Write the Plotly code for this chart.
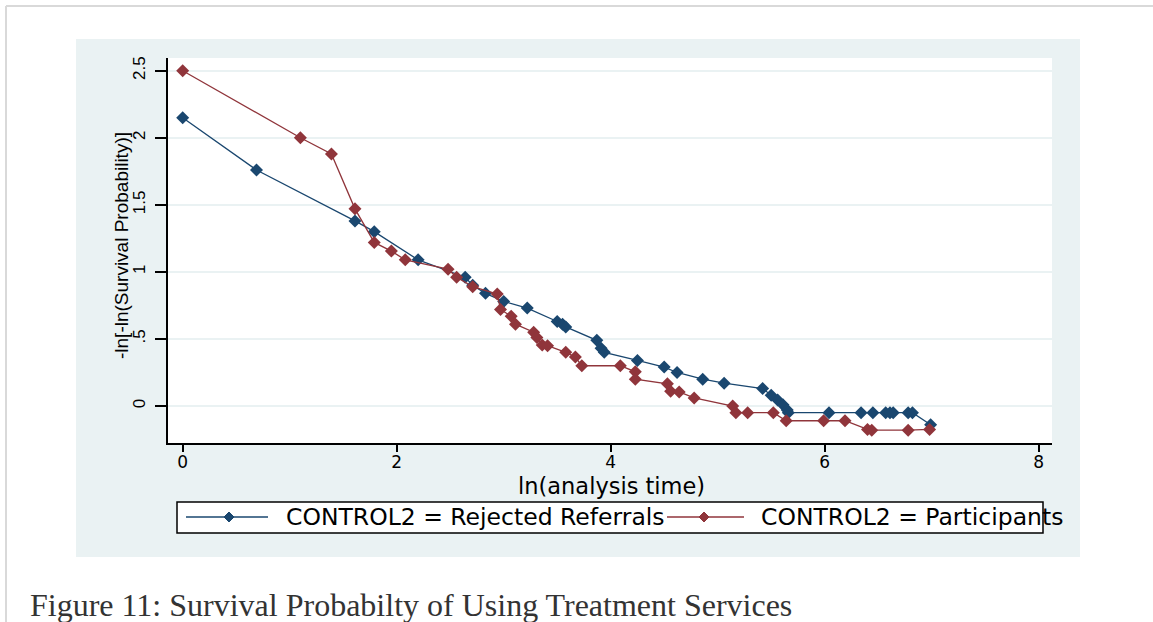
import plotly.graph_objects as go

# ---- data ----
rejected_x = [0, 0.69, 1.61, 1.79, 2.20, 2.64, 2.71, 2.83, 3.00, 3.22, 3.50, 3.55, 3.58,
              3.87, 3.91, 3.94, 4.25, 4.50, 4.62, 4.86, 5.06, 5.42, 5.50, 5.56, 5.61,
              5.65, 5.66, 6.04, 6.34, 6.45, 6.57, 6.61, 6.64, 6.78, 6.82, 6.99]
rejected_y = [2.15, 1.76, 1.38, 1.30, 1.09, 0.96, 0.90, 0.84, 0.78, 0.73, 0.63, 0.61, 0.59,
              0.49, 0.43, 0.40, 0.34, 0.29, 0.25, 0.20, 0.17, 0.13, 0.08, 0.045, 0.01,
              -0.03, -0.05, -0.05, -0.05, -0.05, -0.05, -0.05, -0.05, -0.05, -0.05, -0.14]

partic_x = [0, 1.10, 1.39, 1.61, 1.79, 1.95, 2.08, 2.48, 2.56, 2.71, 2.94, 2.97, 3.07,
            3.11, 3.28, 3.31, 3.36, 3.41, 3.58, 3.67, 3.73, 4.09, 4.23, 4.23, 4.53,
            4.56, 4.64, 4.78, 5.14, 5.17, 5.28, 5.52, 5.64, 5.99, 6.19, 6.40, 6.44,
            6.78, 6.98]
partic_y = [2.50, 2.00, 1.88, 1.47, 1.22, 1.155, 1.09, 1.02, 0.96, 0.89, 0.835, 0.72, 0.67,
            0.61, 0.55, 0.51, 0.455, 0.45, 0.40, 0.365, 0.30, 0.30, 0.255, 0.20, 0.165,
            0.11, 0.105, 0.06, 0.0, -0.05, -0.05, -0.05, -0.11, -0.11, -0.11, -0.175, -0.18,
            -0.18, -0.175]

series_names = ["CONTROL2 = Rejected Referrals", "CONTROL2 = Participants"]
x_tickvals = [0, 2, 4, 6, 8]
x_ticktext = ["0", "2", "4", "6", "8"]
y_tickvals = [0, 0.5, 1, 1.5, 2, 2.5]
y_ticktext = ["0", ".5", "1", "1.5", "2", "2.5"]
x_title = "ln(analysis time)"
y_title = "-ln[-ln(Survival Probability)]"
caption = "Figure 11: Survival Probabilty of Using Treatment Services"

BLUE = "#1a476f"
RED = "#90353b"
BG = "#eaf2f3"

# ---- geometry ----
W, H = 1153, 622
L, R, T, B = 168, 1052, 58, 443
PW, PH = R - L, B - T


def px(xp):
    return (xp - L) / PW


def py(yp):
    return (B - yp) / PH


fig = go.Figure()
fig.add_trace(go.Scatter(x=rejected_x, y=rejected_y, mode="lines+markers",
                         name=series_names[0],
                         line=dict(color=BLUE, width=1.3),
                         marker=dict(symbol="diamond", size=10, color=BLUE),
                         showlegend=False))
fig.add_trace(go.Scatter(x=partic_x, y=partic_y, mode="lines+markers",
                         name=series_names[1],
                         line=dict(color=RED, width=1.3),
                         marker=dict(symbol="diamond", size=10, color=RED),
                         showlegend=False))

shapes = []
# page frame lines
shapes.append(dict(type="line", xref="paper", yref="paper", x0=px(6), x1=px(1160),
                   y0=py(6), y1=py(6), line=dict(color="#d9d9d9", width=2), layer="below"))
shapes.append(dict(type="line", xref="paper", yref="paper", x0=px(6), x1=px(6),
                   y0=py(6), y1=py(630), line=dict(color="#d9d9d9", width=2), layer="below"))
# outer graph region
shapes.append(dict(type="rect", xref="paper", yref="paper", x0=px(76), x1=px(1080),
                   y0=py(557), y1=py(39), fillcolor=BG, line=dict(width=0), layer="below"))
# plot region
shapes.append(dict(type="rect", xref="paper", yref="paper", x0=0, x1=1, y0=0, y1=1,
                   fillcolor="white", line=dict(width=0), layer="below"))
# legend box
shapes.append(dict(type="rect", xref="paper", yref="paper", x0=px(177), x1=px(1043),
                   y0=py(533), y1=py(502), fillcolor="white",
                   line=dict(color="black", width=1.5)))
LEG_Y = 517
for (lx0, lx1, mx, col) in [(186, 268, 229, BLUE), (667, 744, 704, RED)]:
    shapes.append(dict(type="line", xref="paper", yref="paper", x0=px(lx0), x1=px(lx1),
                       y0=py(LEG_Y), y1=py(LEG_Y), line=dict(color=col, width=1.3)))
    d = 5
    path = "M {a},{b} L {c},{e} L {f},{b} L {c},{g} Z".format(
        a=px(mx - d), b=py(LEG_Y), c=px(mx), e=py(LEG_Y - d), f=px(mx + d), g=py(LEG_Y + d))
    shapes.append(dict(type="path", xref="paper", yref="paper", path=path,
                       fillcolor=col, line=dict(color=col, width=1)))

annotations = [
    dict(text=series_names[0], xref="paper", yref="paper", x=px(284), y=py(LEG_Y),
         xanchor="left", yanchor="middle", showarrow=False,
         font=dict(family="DejaVu Sans", size=23.5, color="black")),
    dict(text=series_names[1], xref="paper", yref="paper", x=px(759), y=py(LEG_Y),
         xanchor="left", yanchor="middle", showarrow=False,
         font=dict(family="DejaVu Sans", size=23.5, color="black")),
    dict(text=x_title, xref="paper", yref="paper", x=px(611), y=py(486),
         xanchor="center", yanchor="middle", showarrow=False,
         font=dict(family="DejaVu Sans", size=22.5, color="black")),
    dict(text=y_title, xref="paper", yref="paper", x=px(121), y=py(246),
         xanchor="center", yanchor="middle", showarrow=False, textangle=-90,
         font=dict(family="Liberation Sans", size=19, color="black")),
    dict(text=caption, xref="paper", yref="paper", x=px(28), y=py(605),
         xanchor="left", yanchor="middle", showarrow=False,
         font=dict(family="Liberation Serif", size=32, color="#333333")),
]

fig.update_layout(
    width=W, height=H,
    margin=dict(l=L, r=W - R, t=T, b=H - B, pad=0),
    paper_bgcolor="white", plot_bgcolor="white",
    shapes=shapes, annotations=annotations,
    xaxis=dict(range=[(L - 182.7) / 107.0, (R - 182.7) / 107.0],
               tickvals=x_tickvals, ticktext=x_ticktext,
               showgrid=False, zeroline=False,
               showline=True, linecolor="black", linewidth=2,
               ticks="outside", ticklen=7, tickwidth=1.5, tickcolor="black",
               tickfont=dict(family="DejaVu Sans", size=17, color="black"),
               ticklabelstandoff=-4),
    yaxis=dict(range=[-(B - 406) / 134.1, (406 - T) / 134.1],
               tickvals=y_tickvals, ticktext=y_ticktext,
               showgrid=True, gridcolor=BG, gridwidth=2, zeroline=False,
               showline=True, linecolor="black", linewidth=2,
               ticks="outside", ticklen=11, tickwidth=1.5, tickcolor="black",
               tickangle=-90,
               tickfont=dict(family="Liberation Sans", size=17, color="black"),
               ticklabelstandoff=3),
)

fig.write_html("out.html")
